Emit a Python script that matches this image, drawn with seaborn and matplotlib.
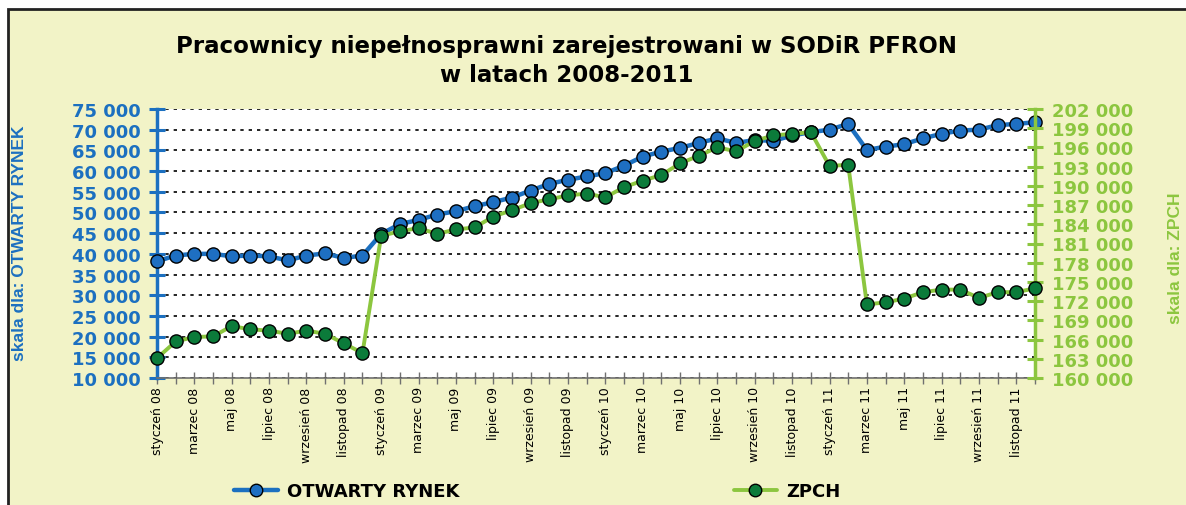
import numpy as np
import pandas as pd
import matplotlib.pyplot as plt
import seaborn as sns
from matplotlib.patches import Rectangle
from matplotlib.lines import Line2D

# monthly values, January 2008 - December 2011
miesiace = ['styczeń', 'luty', 'marzec', 'kwiecień', 'maj', 'czerwiec',
            'lipiec', 'sierpień', 'wrzesień', 'październik', 'listopad', 'grudzień']
lata = ['08', '09', '10', '11']

otwarty_rynek = [38200, 39600, 40000, 40000, 39400, 39600, 39400, 38400, 39600, 40100, 39000, 39600,
                 44800, 47200, 48200, 49500, 50300, 51500, 52500, 53600, 55300, 56900, 57900, 58700,
                 59500, 61300, 63500, 64700, 65600, 66800, 67900, 66800, 67500, 67300, 68600, 69400,
                 70000, 71400, 65100, 65900, 66500, 67900, 69000, 69800, 70000, 71100, 71400, 71800]

zpch = [163100, 165700, 166400, 166500, 168100, 167600, 167400, 166900, 167400, 166900, 165400, 163900,
        182200, 182900, 183400, 182500, 183200, 183500, 185200, 186200, 187300, 187900, 188500, 188800,
        188200, 189800, 190800, 191700, 193500, 194700, 196000, 195400, 197000, 197900, 198100, 198400,
        193100, 193300, 171500, 171800, 172400, 173400, 173800, 173800, 172500, 173400, 173400, 174000]

okresy = [f'{m} {r}' for r in lata for m in miesiace]
df = pd.DataFrame({'okres': okresy, 'nr': range(len(okresy)),
                   'otwarty': otwarty_rynek, 'zpch': zpch})

bg = '#F2F3C7'
blue = '#1C70C0'
blue_fill = '#1E6FC2'
green = '#8CC63F'
green_fill = '#0B7B3A'

sns.set_style('white')
plt.rcParams['font.family'] = ['DejaVu Sans']
plt.rcParams['text.color'] = 'black'
plt.rcParams['xtick.color'] = 'black'

fig = plt.figure(figsize=(11.86, 5.06), dpi=100)
fig.patch.set_facecolor('white')
fig.patches.append(Rectangle((8 / 1186, -0.1), 1.2, (506 - 10) / 506 + 0.1,
                             transform=fig.transFigure, facecolor=bg,
                             edgecolor='#222222', linewidth=2, zorder=-10))

ax = fig.add_axes([157 / 1186, (506 - 379) / 506, 878 / 1186, 269 / 506])
ax.set_facecolor('white')

sns.lineplot(data=df, x='nr', y='otwarty', ax=ax, color=blue, linewidth=3.2,
             marker='o', markersize=9.5, markerfacecolor=blue_fill,
             markeredgecolor='black', markeredgewidth=1, clip_on=False, zorder=3)

ax2 = ax.twinx()
sns.lineplot(data=df, x='nr', y='zpch', ax=ax2, color=green, linewidth=2.8,
             marker='o', markersize=9.5, markerfacecolor=green_fill,
             markeredgecolor='black', markeredgewidth=1, clip_on=False, zorder=3)

# axes ranges and ticks
ax.set_xlim(0, len(okresy) - 1)
ax.set_ylim(10000, 75000)
ax2.set_ylim(160000, 202000)

yt = np.arange(10000, 75001, 5000)
ax.set_yticks(yt)
ax.set_yticklabels([f'{v:,}'.replace(',', ' ') for v in yt], fontweight='bold')
yt2 = np.arange(160000, 202001, 3000)
ax2.set_yticks(yt2)
ax2.set_yticklabels([f'{v:,}'.replace(',', ' ') for v in yt2], fontweight='bold')

ax.set_xticks(df['nr'][::2])
ax.set_xticklabels(df['okres'][::2])
ax.set_xticks(df['nr'][1::2], minor=True)

ax.tick_params(axis='x', which='both', direction='inout', length=8, width=1,
               color='#707070', labelcolor='black', labelsize=9, rotation=90,
               pad=2, bottom=True)
ax.tick_params(axis='y', direction='inout', length=12, width=2.2, color=blue,
               labelcolor=blue, labelsize=13, pad=6, left=True)
ax2.tick_params(axis='y', direction='inout', length=12, width=2.2, color=green,
                labelcolor=green, labelsize=13, pad=6, right=True)

for s in ['top', 'right']:
    ax.spines[s].set_visible(False)
ax.spines['left'].set_color(blue)
ax.spines['left'].set_linewidth(2.5)
ax.spines['bottom'].set_color('#707070')
ax.spines['bottom'].set_linewidth(1.2)
for s in ['top', 'left', 'bottom']:
    ax2.spines[s].set_visible(False)
ax2.spines['right'].set_color(green)
ax2.spines['right'].set_linewidth(2.5)

ax.set_axisbelow(True)
ax.yaxis.grid(True, linestyle=(0, (2, 3)), color='black', linewidth=1.2)
ax.xaxis.grid(False)

ax.set_xlabel('')
ax.set_ylabel('skala dla: OTWARTY RYNEK', color=blue, fontsize=12.5,
              fontweight='bold', family='Liberation Sans')
ax.yaxis.set_label_coords(-0.148, 0.506)
ax2.set_ylabel('skala dla: ZPCH', color=green, fontsize=12.5,
               fontweight='bold', family='Liberation Sans')
ax2.yaxis.set_label_coords(1.152, 0.45)

fig.text(0.478, 0.908, 'Pracownicy niepełnosprawni zarejestrowani w SODiR PFRON',
         ha='center', va='center', fontsize=16.5, fontweight='bold', color='black')
fig.text(0.478, 0.850, 'w latach 2008-2011', ha='center', va='center',
         fontsize=16.5, fontweight='bold', color='black')

handles = [Line2D([], [], color=blue, linewidth=3.2, marker='o', markersize=9,
                  markerfacecolor=blue_fill, markeredgecolor='black'),
           Line2D([], [], color=green, linewidth=2.8, marker='o', markersize=9,
                  markerfacecolor=green_fill, markeredgecolor='black')]
leg = fig.legend(handles, ['OTWARTY RYNEK', 'ZPCH'], loc='center left',
                 bbox_to_anchor=(0.19, 0.027), ncol=2, frameon=False,
                 prop={'weight': 'bold', 'size': 13}, handlelength=2.4,
                 columnspacing=15.2, borderpad=0, handletextpad=0.5)
for t in leg.get_texts():
    t.set_color('black')

fig.savefig('out.png', dpi=100)
